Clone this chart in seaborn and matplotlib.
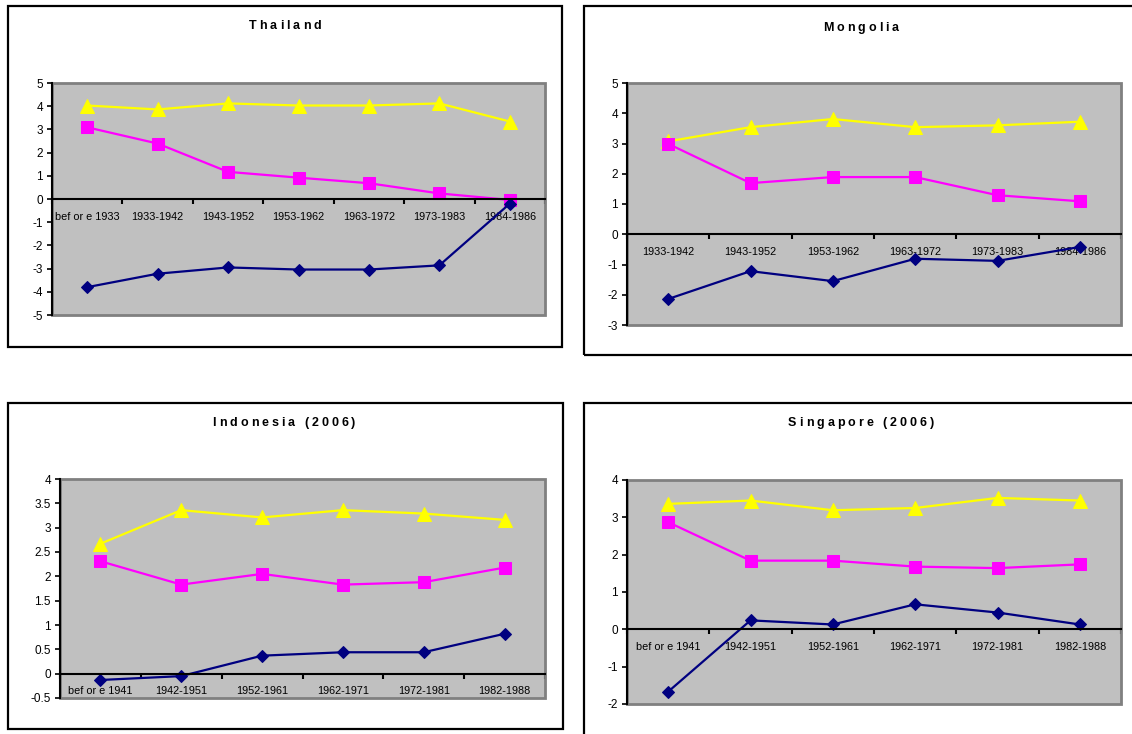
import numpy as np
import pandas as pd
import matplotlib.pyplot as plt
import seaborn as sns
from matplotlib.patches import Rectangle
from matplotlib.ticker import FuncFormatter

# data (yellow / magenta / navy series)
thai_cats = ["bef or e 1933", "1933-1942", "1943-1952", "1953-1962", "1963-1972", "1973-1983", "1984-1986"]
thai_yellow = [4.03, 3.86, 4.12, 4.03, 4.03, 4.12, 3.34]
thai_magenta = [3.09, 2.39, 1.17, 0.92, 0.68, 0.24, -0.04]
thai_navy = [-3.80, -3.22, -2.95, -3.04, -3.04, -2.86, -0.20]

mong_cats = ["1933-1942", "1943-1952", "1953-1962", "1963-1972", "1973-1983", "1984-1986"]
mong_yellow = [3.07, 3.54, 3.81, 3.54, 3.60, 3.72]
mong_magenta = [2.99, 1.69, 1.89, 1.89, 1.29, 1.09]
mong_navy = [-2.14, -1.22, -1.55, -0.81, -0.88, -0.42]

indo_cats = ["bef or e 1941", "1942-1951", "1952-1961", "1962-1971", "1972-1981", "1982-1988"]
indo_yellow = [2.67, 3.36, 3.21, 3.36, 3.29, 3.16]
indo_magenta = [2.31, 1.83, 2.05, 1.83, 1.88, 2.18]
indo_navy = [-0.13, -0.05, 0.37, 0.44, 0.44, 0.82]

sing_cats = ["bef or e 1941", "1942-1951", "1952-1961", "1962-1971", "1972-1981", "1982-1988"]
sing_yellow = [3.36, 3.45, 3.19, 3.25, 3.52, 3.45]
sing_magenta = [2.87, 1.84, 1.84, 1.68, 1.64, 1.74]
sing_navy = [-1.67, 0.24, 0.13, 0.67, 0.45, 0.13]

sns.set_style("white")
plt.rcParams['font.family'] = ['Liberation Sans', 'DejaVu Sans']
plt.rcParams['text.color'] = 'black'
plt.rcParams['xtick.color'] = 'black'
plt.rcParams['ytick.color'] = 'black'

W, H = 1132, 734
fig = plt.figure(figsize=(W / 100, H / 100), dpi=100)
renderer = fig.canvas.get_renderer()


def fbox(l, t, r, b):
    return [l / W, 1 - b / H, (r - l) / W, (b - t) / H]


def text_width(s, **kw):
    t = fig.text(0, 0, s, **kw)
    w = t.get_window_extent(renderer).width if s else 0
    t.remove()
    return w


def spaced_title(cx, cy, title, track=3.0):
    # Excel-style letter spaced bold title, one glyph at a time
    kw = dict(fontsize=9, fontweight="bold")
    total = text_width(title, **kw) + track * (len(title) - 1)
    x0 = cx - total / 2
    for i, ch in enumerate(title):
        x = x0 + text_width(title[:i], **kw) + track * i
        fig.text(x / W, 1 - cy / H, ch, ha="left", va="center", **kw)


def panel(title, cats, yellow, magenta, navy, ylim, ystep, plot_px, frame_px, title_xy):
    # outer chart frame
    fl, ft, fr, fb = frame_px
    fig.add_artist(Rectangle((fl / W, 1 - fb / H), (fr - fl) / W, (fb - ft) / H,
                             transform=fig.transFigure, fill=False, ec="black", lw=1.6))
    spaced_title(title_xy[0], title_xy[1], title)

    ax = fig.add_axes(fbox(*plot_px))
    ax.set_facecolor("#C0C0C0")
    ax.add_patch(Rectangle((0, 0), 1, 1, transform=ax.transAxes, fill=False,
                           ec="#808080", lw=2, zorder=1, clip_on=False))

    n = len(cats)
    pos = np.arange(n)
    df = pd.DataFrame({"pos": np.tile(pos, 3),
                       "value": yellow + magenta + navy,
                       "series": ["y"] * n + ["m"] * n + ["n"] * n})
    styles = {"y": ("#FFFF00", "^", 9.5), "m": ("#FF00FF", "s", 8), "n": ("#000080", "D", 6.5)}
    for key, (col, mk, ms) in styles.items():
        sub = df[df["series"] == key]
        sns.lineplot(data=sub, x="pos", y="value", color=col, marker=mk, markersize=ms,
                     markeredgecolor=col, lw=1.6, ax=ax, legend=False)

    ax.set_xlim(-0.5, n - 0.5)
    ax.set_ylim(*ylim)
    ax.set_xlabel("")
    ax.set_ylabel("")

    for s in ["top", "right"]:
        ax.spines[s].set_visible(False)
    ax.spines["left"].set_color("black")
    ax.spines["left"].set_linewidth(1.5)
    ax.spines["bottom"].set_position(("data", 0))
    ax.spines["bottom"].set_color("black")
    ax.spines["bottom"].set_linewidth(1.5)

    ax.set_xticks(np.arange(n + 1) - 0.5)
    ax.set_xticklabels([])
    ax.set_xticks(pos, minor=True)
    ax.set_xticklabels(cats, minor=True, fontsize=7.8)
    ax.tick_params(axis="x", which="major", bottom=True, direction="out", length=3.5,
                   width=1.5, color="black")
    ax.tick_params(axis="x", which="minor", bottom=True, length=0, pad=9)

    ax.set_yticks(np.arange(ylim[0], ylim[1] + ystep / 2, ystep))
    ax.yaxis.set_major_formatter(FuncFormatter(lambda v, p: "%g" % v))
    ax.tick_params(axis="y", left=True, direction="out", length=3.5, width=1.2, color="black",
                   labelsize=8.5, pad=3)
    ax.set_axisbelow(True)
    return ax


panel("Thailand", thai_cats, thai_yellow, thai_magenta, thai_navy, (-5, 5), 1,
      (52, 83, 545, 315), (8, 6, 562, 347), (285, 26))
panel("Mongolia", mong_cats, mong_yellow, mong_magenta, mong_navy, (-3, 5), 1,
      (627, 83, 1121, 325), (584, 6, 1140, 355), (861, 28))
panel("Indonesia (2006)", indo_cats, indo_yellow, indo_magenta, indo_navy, (-0.5, 4), 0.5,
      (60, 479, 545, 698), (8, 403, 563, 729), (284, 423))
panel("Singapore (2006)", sing_cats, sing_yellow, sing_magenta, sing_navy, (-2, 4), 1,
      (627, 480, 1121, 704), (584, 403, 1140, 740), (861, 423))

fig.savefig("out.png", dpi=100)
